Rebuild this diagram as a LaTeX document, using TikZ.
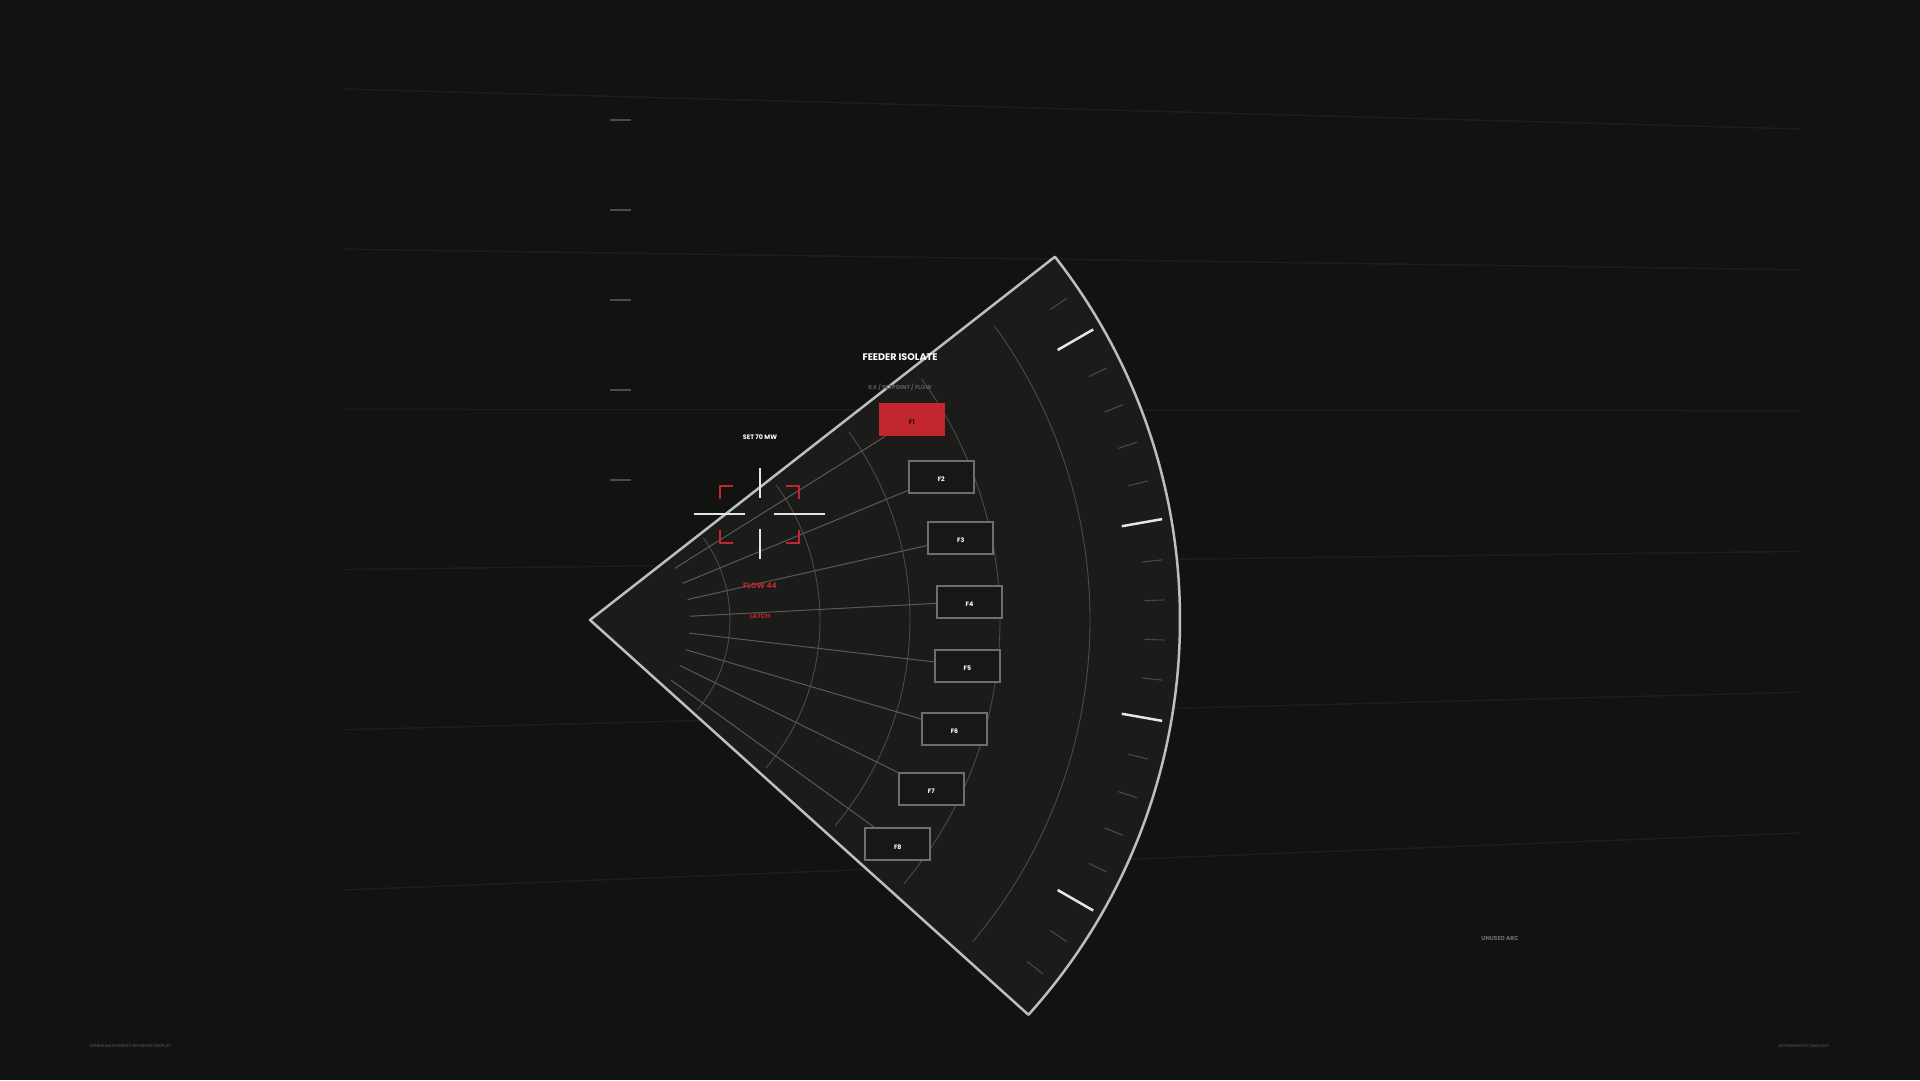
\documentclass[tikz,border=0pt]{standalone}
\usepackage{fontspec}
\setmainfont{Poppins}
\usetikzlibrary{positioning,calc}
\definecolor{bgdark}{HTML}{121210}
\definecolor{sector}{HTML}{1B1B1A}
\definecolor{rim}{HTML}{B9BFC4}
\definecolor{gridgray}{HTML}{4B4B4A}
\definecolor{fangray}{HTML}{5A5A59}
\definecolor{boxgray}{HTML}{6E6E6D}
\definecolor{alarm}{HTML}{C1272D}
\definecolor{faint}{HTML}{1D1D1B}
\tikzset{
	feeder/.style={draw=boxgray,line width=1.8pt,fill=sector!85!black,minimum width=65pt,minimum height=32pt,inner sep=0,text height=9.4pt,text depth=0pt,text=white,font=\fontsize{6.3}{7}\selectfont\bfseries},
	feederon/.style={feeder,draw=alarm,fill=alarm,text=black!80!alarm},
	fan/.style={color=fangray,line width=1pt},
	gridarc/.style={color=gridgray,line width=0.9pt},
	minortick/.style={color=gridgray,line width=1pt},
	majortick/.style={color=white!90!black,line width=2.5pt},
	cross/.style={color=white!90!black,line width=2pt},
	bracket/.style={color=alarm,line width=2pt},
	label/.style={inner sep=0,text=white,font=\bfseries}
}

\begin{document}
\begin{tikzpicture}[x=1pt,y=1pt]
		\fill [bgdark] (0,0) rectangle (1920,1080);
		\useasboundingbox (0,0) rectangle (1920,1080);

		% faint background lines
		\draw [faint, line width=1.5pt] (343,991) -- (1800,951);
		\draw [faint, line width=1.5pt] (343,830.8) -- (1800,810.2);
		\draw [faint, line width=1.5pt] (343,670.6) -- (1800,669.4);
		\draw [faint, line width=1.5pt] (343,510.4) -- (1800,528.6);
		\draw [faint, line width=1.5pt] (343,350.2) -- (1800,387.8);
		\draw [faint, line width=1.5pt] (343,190) -- (1800,247);

		% left scale
		\draw [gridgray, line width=1.2pt] (610,960) -- (631,960);
		\draw [gridgray, line width=1.2pt] (610,870) -- (631,870);
		\draw [gridgray, line width=1.2pt] (610,780) -- (631,780);
		\draw [gridgray, line width=1.2pt] (610,690) -- (631,690);
		\draw [gridgray, line width=1.2pt] (610,600) -- (631,600);

		\coordinate (0) at (590,460);

		% sector
		\fill [sector] (0) -- ++(38:590) arc[start angle=38, end angle=-42, radius=590pt] -- cycle;

		\draw [gridarc] (0) ++(36:140) arc[start angle=36, end angle=-40, radius=140pt];
		\draw [gridarc] (0) ++(36:230) arc[start angle=36, end angle=-40, radius=230pt];
		\draw [gridarc] (0) ++(36:320) arc[start angle=36, end angle=-40, radius=320pt];
		\draw [gridarc] (0) ++(36:410) arc[start angle=36, end angle=-40, radius=410pt];
		\draw [gridarc] (0) ++(36:500) arc[start angle=36, end angle=-40, radius=500pt];

		% ticks
		\draw [minortick] (0) ++(34:555) -- ++(34:20);
		\draw [majortick] (0) ++(30:540) -- ++(30:41);
		\draw [minortick] (0) ++(26:555) -- ++(26:20);
		\draw [minortick] (0) ++(22:555) -- ++(22:20);
		\draw [minortick] (0) ++(18:555) -- ++(18:20);
		\draw [minortick] (0) ++(14:555) -- ++(14:20);
		\draw [majortick] (0) ++(10:540) -- ++(10:41);
		\draw [minortick] (0) ++(6:555) -- ++(6:20);
		\draw [minortick] (0) ++(2:555) -- ++(2:20);
		\draw [minortick] (0) ++(-2:555) -- ++(-2:20);
		\draw [minortick] (0) ++(-6:555) -- ++(-6:20);
		\draw [majortick] (0) ++(-10:540) -- ++(-10:41);
		\draw [minortick] (0) ++(-14:555) -- ++(-14:20);
		\draw [minortick] (0) ++(-18:555) -- ++(-18:20);
		\draw [minortick] (0) ++(-22:555) -- ++(-22:20);
		\draw [minortick] (0) ++(-26:555) -- ++(-26:20);
		\draw [majortick] (0) ++(-30:540) -- ++(-30:41);
		\draw [minortick] (0) ++(-34:555) -- ++(-34:20);
		\draw [minortick] (0) ++(-38:555) -- ++(-38:20);

		\draw [rim, line width=2.5pt, line join=round] (0) -- ++(38:590) arc[start angle=38, end angle=-42, radius=590pt] -- cycle;

		% feeders
		\begin{scope}[shift={(590,458.5)}]
			\coordinate (11) at (32.1:100);
			\coordinate (12) at (22.4:100);
			\coordinate (13) at (12.7:100);
			\coordinate (14) at (3.0:100);
			\coordinate (15) at (-6.7:100);
			\coordinate (16) at (-16.4:100);
			\coordinate (17) at (-26.1:100);
			\coordinate (18) at (-35.9:100);

			\node [feederon] (1) at (32.1:380) {F1};
			\node [feeder] (2) at (22.4:380) {F2};
			\node [feeder] (3) at (12.7:380) {F3};
			\node [feeder] (4) at (3.0:380) {F4};
			\node [feeder] (5) at (-6.7:380) {F5};
			\node [feeder] (6) at (-16.4:380) {F6};
			\node [feeder] (7) at (-26.1:380) {F7};
			\node [feeder] (8) at (-35.9:380) {F8};
		\end{scope}

		\draw [fan] (11) to (1);
		\draw [fan] (12) to (2);
		\draw [fan] (13) to (3);
		\draw [fan] (14) to (4);
		\draw [fan] (15) to (5);
		\draw [fan] (16) to (6);
		\draw [fan] (17) to (7);
		\draw [fan] (18) to (8);

		% crosshair
		\coordinate (aim) at (760,566);
		\draw [cross] ([yshift=16]aim) -- ([yshift=46]aim);
		\draw [cross] ([yshift=-15]aim) -- ([yshift=-45]aim);
		\draw [cross] ([xshift=-15]aim) -- ([xshift=-66]aim);
		\draw [cross] ([xshift=14]aim) -- ([xshift=65]aim);
		\draw [bracket] (720,581) -- (720,594) -- (733,594);
		\draw [bracket] (786,594) -- (799,594) -- (799,581);
		\draw [bracket] (720,550) -- (720,537) -- (733,537);
		\draw [bracket] (786,537) -- (799,537) -- (799,550);

		% texts
		\node [label, font=\fontsize{9.6}{10}\selectfont\bfseries] (title) at (900,723.3) {FEEDER ISOLATE};
		\node [label, text=fangray, font=\fontsize{5.8}{6}\selectfont\bfseries] (legend) at (900,692.3) {ILX / SETPOINT / FLOW};
		\node [label, font=\fontsize{6.4}{7}\selectfont\bfseries] (set) at (760,643.3) {SET 70 MW};
		\node [label, text=alarm, font=\fontsize{7.6}{8}\selectfont\bfseries] (flow) at (760,494) {FLOW 44};
		\node [label, text=alarm, font=\fontsize{6.2}{7}\selectfont\bfseries] (latch) at (760,463.3) {LATCH};
		\node [label, text=boxgray, font=\fontsize{5.8}{6}\selectfont\bfseries] (unused) at (1500,142) {UNUSED ARC};
		\node [label, text=gridgray!80!bgdark, anchor=west, font=\fontsize{4.1}{5}\selectfont\bfseries] (footl) at (90,34) {RENEWABLE ENERGY NETWORK DISPLAY};
		\node [label, text=gridgray!80!bgdark, anchor=east, font=\fontsize{4}{5}\selectfont\bfseries] (footr) at (1829,34) {DETERMINISTIC SIM LOOP};
\end{tikzpicture}
\end{document}
